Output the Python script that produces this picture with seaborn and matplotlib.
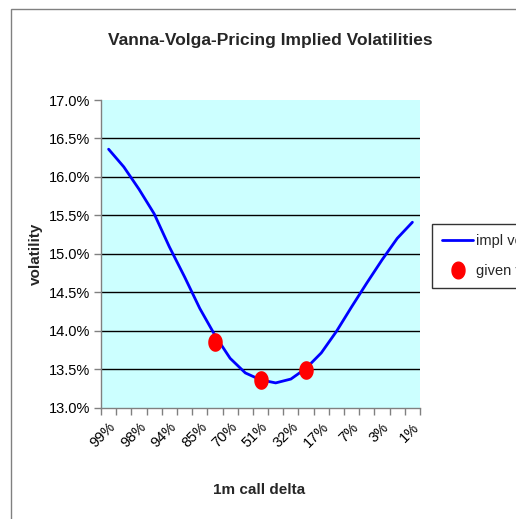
import numpy as np
import pandas as pd
import matplotlib
matplotlib.use("Agg")
import matplotlib.pyplot as plt
import seaborn as sns
from matplotlib.lines import Line2D
from matplotlib.patches import Rectangle
from matplotlib.path import Path
from matplotlib.ticker import FuncFormatter, FixedLocator

# ---- data ----
delta_labels = ["99%", "98%", "94%", "85%", "70%", "51%", "32%", "17%", "7%", "3%", "1%"]
grid_index = list(range(21))  # 21 delta grid points, every other one labelled
impl_vol = [16.36, 16.13, 15.84, 15.52, 15.09, 14.70, 14.29, 13.94, 13.64, 13.45,
            13.36, 13.32, 13.37, 13.51, 13.71, 13.99, 14.31, 14.62, 14.92, 15.20, 15.41]
given_index = [7, 10, 13]
given_vol = [13.85, 13.36, 13.49]
y_ticks = [13.0, 13.5, 14.0, 14.5, 15.0, 15.5, 16.0, 16.5, 17.0]

df_line = pd.DataFrame({"idx": grid_index, "vol": impl_vol})
df_pts = pd.DataFrame({"idx": given_index, "vol": given_vol})

sns.set_theme(style="white")
plt.rcParams["font.family"] = ["Liberation Sans", "DejaVu Sans"]

W, H = 516, 519
fig = plt.figure(figsize=(W / 100, H / 100), dpi=100)
fig.patch.set_facecolor("white")
ax = fig.add_axes([101 / W, 1 - 407.5 / H, (420 - 101) / W, (407.5 - 100) / H])
ax.set_facecolor("#CCFFFF")

sns.lineplot(data=df_line, x="idx", y="vol", ax=ax, color="#0000FF", linewidth=2.0,
             legend=False)

# slightly tall ellipse marker like the Excel dot
t = np.linspace(0, 2 * np.pi, 40)
ell = Path(np.column_stack([0.78 * np.cos(t), np.sin(t)]))
sns.scatterplot(data=df_pts, x="idx", y="vol", ax=ax, color="#FF0000", marker=ell,
                s=180, edgecolor="#FF0000", linewidth=0, zorder=5, legend=False)

ax.set_xlim(-0.5, 20.5)
ax.set_ylim(13.0, 17.0)
ax.set_yticks(y_ticks)
ax.yaxis.set_major_formatter(FuncFormatter(lambda v, p: f"{v:.1f}%"))
ax.grid(axis="y", color="black", linewidth=1.0)
ax.grid(axis="x", visible=False)
for tk, loc in zip(ax.yaxis.get_major_ticks(), y_ticks):
    if loc >= 17.0 or loc <= 13.0:
        tk.gridline.set_visible(False)

ax.xaxis.set_major_locator(FixedLocator(grid_index[::2]))
ax.set_xticklabels(delta_labels, rotation=45, ha="right", va="top",
                   rotation_mode="anchor", fontsize=10.5)
ax.xaxis.set_minor_locator(FixedLocator(np.arange(-0.5, 21, 1)))
ax.tick_params(axis="x", which="major", length=0, pad=9)
ax.tick_params(axis="x", which="minor", length=5, width=1, color="#808080", bottom=True)
ax.tick_params(axis="y", which="major", length=5, width=1, color="#808080", left=True,
               labelsize=10.5, pad=3)
for lbl in ax.get_yticklabels() + ax.get_xticklabels():
    lbl.set_color("black")

for s in ["top", "right"]:
    ax.spines[s].set_visible(False)
for s in ["left", "bottom"]:
    ax.spines[s].set_color("#808080")
    ax.spines[s].set_linewidth(1.0)

ax.set_xlabel("")
ax.set_ylabel("")

fig.text(270 / W, 1 - 40 / H, "Vanna-Volga-Pricing Implied Volatilities",
         ha="center", va="center", fontsize=12.5, fontweight="bold")
fig.text(259 / W, 1 - 490 / H, "1m call delta", ha="center", va="center",
         fontsize=11, fontweight="bold")
fig.text(36 / W, 1 - 254 / H, "volatility", ha="center", va="center",
         fontsize=11, fontweight="bold", rotation=90)

# outer chart frame (clipped at right/bottom like the reference)
fig.add_artist(Rectangle((11 / W, -0.2), 2.0, 1 - 9 / H + 0.2,
                         transform=fig.transFigure, fill=False,
                         edgecolor="#808080", linewidth=1.0))

handles = [Line2D([0], [0], color="#0000FF", linewidth=2.0),
           Line2D([0], [0], color="#FF0000", marker=ell, linestyle="none",
                  markersize=12)]
leg = fig.legend(handles, ["impl vol", "given vol"], loc="upper left",
                 bbox_to_anchor=(432 / W, 1 - 224 / H), frameon=True,
                 fancybox=False, fontsize=10.5, handlelength=2.1,
                 handletextpad=0.25, borderpad=0.7, borderaxespad=0,
                 labelspacing=1.1)
leg.get_frame().set_edgecolor("black")
leg.get_frame().set_linewidth(1.0)
leg.get_frame().set_facecolor("white")

fig.savefig("out.png", dpi=100)
